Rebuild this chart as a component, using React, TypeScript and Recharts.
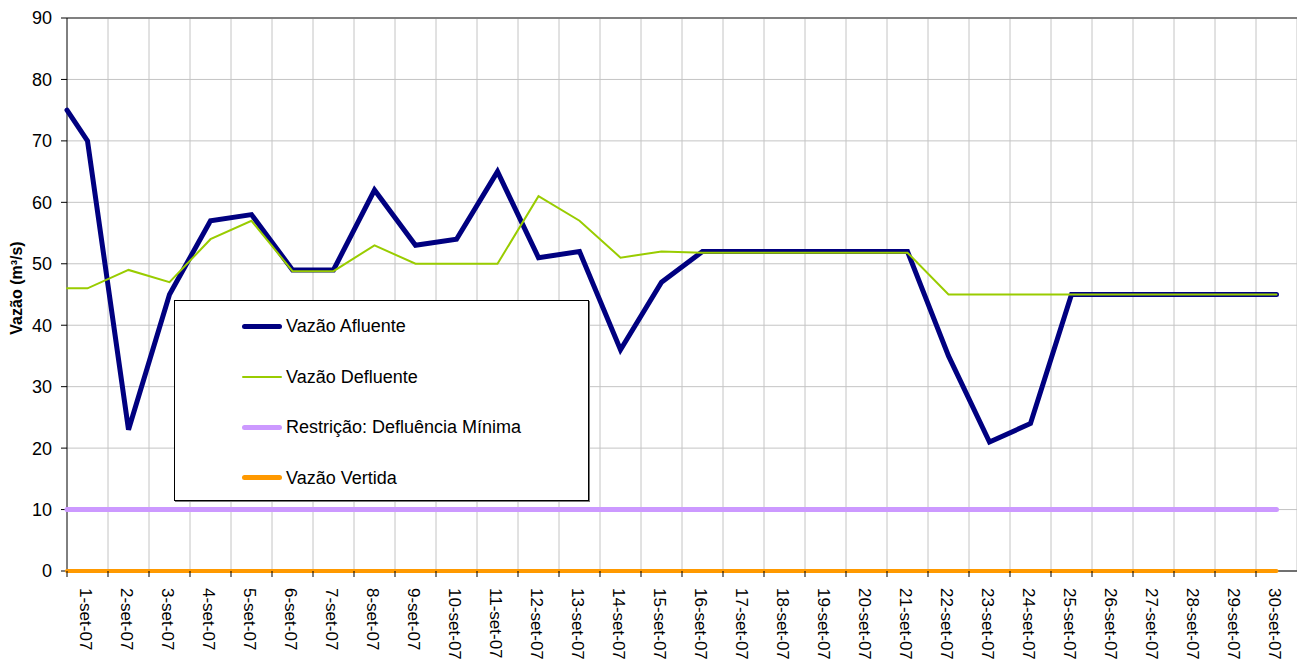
import { LineChart, Line, XAxis, YAxis, CartesianGrid, Legend, ReferenceLine } from 'recharts'

// day labels on the category axis
const dayLabels = [
  '1-set-07', '2-set-07', '3-set-07', '4-set-07', '5-set-07', '6-set-07', '7-set-07', '8-set-07',
  '9-set-07', '10-set-07', '11-set-07', '12-set-07', '13-set-07', '14-set-07', '15-set-07',
  '16-set-07', '17-set-07', '18-set-07', '19-set-07', '20-set-07', '21-set-07', '22-set-07',
  '23-set-07', '24-set-07', '25-set-07', '26-set-07', '27-set-07', '28-set-07', '29-set-07', '30-set-07',
]

// position of each point: first one sits on the left edge of the plot, then one per day
const positions = [0.5, 1, 2, 3, 4, 5, 6, 7, 8, 9, 10, 11, 12, 13, 14, 15, 16, 17, 18, 19, 20, 21, 22, 23, 24, 25, 26, 27, 28, 29, 30]

const afluente = [75, 70, 23, 45, 57, 58, 49, 49, 62, 53, 54, 65, 51, 52, 36, 47, 52, 52, 52, 52, 52, 52, 35, 21, 24, 45, 45, 45, 45, 45, 45]
const defluente = [46, 46, 49, 47, 54, 57, 48.8, 48.8, 53, 50, 50, 50, 61, 57, 51, 52, 51.8, 51.8, 51.8, 51.8, 51.8, 51.8, 45, 45, 45, 45, 45, 45, 45, 45, 45]
const restricao = [10, 10, 10, 10, 10, 10, 10, 10, 10, 10, 10, 10, 10, 10, 10, 10, 10, 10, 10, 10, 10, 10, 10, 10, 10, 10, 10, 10, 10, 10, 10]
const vertida = [0, 0, 0, 0, 0, 0, 0, 0, 0, 0, 0, 0, 0, 0, 0, 0, 0, 0, 0, 0, 0, 0, 0, 0, 0, 0, 0, 0, 0, 0, 0]

const yTicks = [0, 10, 20, 30, 40, 50, 60, 70, 80, 90]
const dayTicks = [1, 2, 3, 4, 5, 6, 7, 8, 9, 10, 11, 12, 13, 14, 15, 16, 17, 18, 19, 20, 21, 22, 23, 24, 25, 26, 27, 28, 29, 30]

const series = [
  { key: 'afluente', name: 'Vazão Afluente', color: '#000080', width: 5, legendWidth: 5 },
  { key: 'defluente', name: 'Vazão Defluente', color: '#99cc00', width: 2, legendWidth: 2 },
  { key: 'restricao', name: 'Restrição: Defluência Mínima', color: '#cc99ff', width: 5, legendWidth: 5 },
  { key: 'vertida', name: 'Vazão Vertida', color: '#ff9900', width: 4, legendWidth: 5 },
]

const rows = positions.map((x, i) => ({
  x,
  afluente: afluente[i],
  defluente: defluente[i],
  restricao: restricao[i],
  vertida: vertida[i],
}))

const W = 1297
const H = 662
const PLOT_LEFT = 67
const PLOT_TOP = 18
const X_AXIS_H = 91
const AXIS_Y = H - X_AXIS_H
const STEP = (W - PLOT_LEFT) / 30
const FONT = '"Liberation Sans", Arial, sans-serif'

function DayTick(props: any) {
  const { x, payload } = props
  const label = dayLabels[payload.value - 1]
  const mark = x - STEP / 2
  return (
    <g>
      <line x1={mark} x2={mark} y1={AXIS_Y} y2={AXIS_Y + 6} stroke="#000" />
      <text
        transform={`translate(${x - 2}, ${AXIS_Y + 17}) rotate(90)`}
        dy="0.35em"
        fontSize={17}
        fill="#000"
        fontFamily={FONT}
      >
        {label}
      </text>
    </g>
  )
}

function LegendBox() {
  return (
    <div
      style={{
        position: 'relative',
        width: 415,
        height: 201,
        boxSizing: 'border-box',
        border: '1px solid #000',
        boxShadow: '1px 1px 0 #777',
        background: '#fff',
        fontFamily: FONT,
        fontSize: 18,
        color: '#000',
      }}
    >
      {series.map((s, i) => (
        <div key={s.key} style={{ position: 'absolute', left: 0, top: 25 + i * 50.5, width: '100%', height: 0 }}>
          <div
            style={{
              position: 'absolute',
              left: 67,
              top: -s.legendWidth / 2,
              width: 40,
              height: s.legendWidth,
              background: s.color,
              borderRadius: s.legendWidth / 2,
            }}
          />
          <div style={{ position: 'absolute', left: 111, top: -11, lineHeight: '22px', whiteSpace: 'nowrap' }}>
            {s.name}
          </div>
        </div>
      ))}
    </div>
  )
}

export default function App() {
  return (
    <div style={{ position: 'absolute', left: 0, top: 0, width: W, height: H, background: '#fff', fontFamily: FONT }}>
      <LineChart width={W} height={H} data={rows} margin={{ top: PLOT_TOP, right: 0, left: 0, bottom: 0 }}>
        <CartesianGrid
          stroke="#c4c4c4"
          verticalCoordinatesGenerator={() => dayTicks.map((d) => PLOT_LEFT + d * STEP)}
        />
        <ReferenceLine y={90} stroke="#808080" strokeWidth={2} />
        <XAxis
          dataKey="x"
          type="number"
          domain={[0.5, 30.5]}
          ticks={dayTicks}
          interval={0}
          height={X_AXIS_H}
          axisLine={{ stroke: '#000' }}
          tickLine={false}
          tick={<DayTick />}
        />
        <YAxis
          type="number"
          domain={[0, 90]}
          ticks={yTicks}
          width={PLOT_LEFT}
          axisLine={{ stroke: '#000' }}
          tickLine={{ stroke: '#000' }}
          tickSize={6}
          tickMargin={9}
          tick={{ fill: '#000', fontSize: 18, fontFamily: FONT }}
          label={{
            content: () => (
              <text
                transform="translate(21.5, 288) rotate(-90)"
                textAnchor="middle"
                fontSize={16}
                fontWeight="bold"
                fill="#000"
                fontFamily={FONT}
              >
                Vazão (m³/s)
              </text>
            ),
          }}
        />
        {series.map((s) => (
          <Line
            key={s.key}
            dataKey={s.key}
            name={s.name}
            type="linear"
            stroke={s.color}
            strokeWidth={s.width}
            strokeLinecap="round"
            dot={false}
            activeDot={false}
            isAnimationActive={false}
            zIndex={600}
          />
        ))}
        <Legend
          layout="horizontal"
          verticalAlign="middle"
          align="center"
          wrapperStyle={{ left: 174, top: 300, width: 415, height: 201 }}
          content={() => <LegendBox />}
        />
      </LineChart>
    </div>
  )
}
